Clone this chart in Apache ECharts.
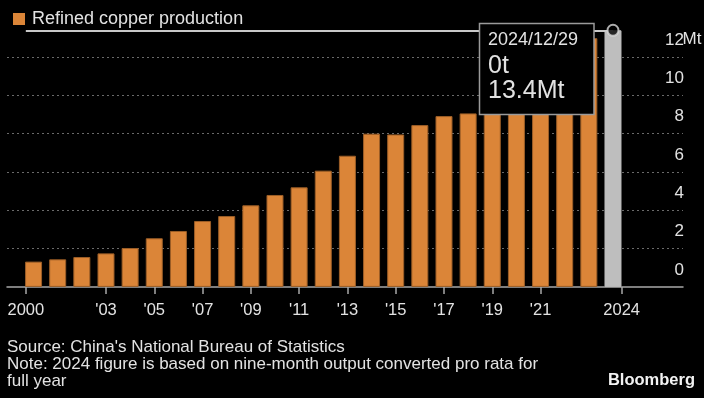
<!DOCTYPE html>
<html>
<head>
<meta charset="utf-8">
<script src="https://cdn.jsdelivr.net/npm/echarts@6/dist/echarts.min.js"></script>
<style>
  html, body { margin: 0; padding: 0; background: #000; }
  #chart { width: 704px; height: 398px; }
</style>
</head>
<body>
<div id="chart"></div>
<script>
  // refined copper output, million tonnes (2024 = pro rata from 9 months)
  const years = [2000, 2001, 2002, 2003, 2004, 2005, 2006, 2007, 2008, 2009, 2010, 2011,
    2012, 2013, 2014, 2015, 2016, 2017, 2018, 2019, 2020, 2021, 2022, 2023, 2024]
  const production = [1.32, 1.44, 1.56, 1.75, 2.03, 2.54, 2.92, 3.44, 3.70, 4.26, 4.80, 5.20,
    6.07, 6.85, 8.00, 7.96, 8.45, 8.92, 9.06, 9.78, 10.03, 10.49, 11.06, 12.99, 13.4]
  const tickYears = [2000, 2003, 2005, 2007, 2009, 2011, 2013, 2015, 2017, 2019, 2021, 2024]
  const tickLabels = ['2000', "'03", "'05", "'07", "'09", "'11", "'13", "'15", "'17", "'19", "'21", '2024']
  const yTicks = [0, 2, 4, 6, 8, 10, 12]

  const FONT = "'Liberation Sans', Arial, sans-serif"
  const ORANGE = '#DB8538'
  const GREY = '#BEBEBE'
  const TXT = '#E2E2E2'

  // first / last labels sit on the edges of the plotted span, like the original
  const tickPos = tickYears.map((y, i) => i === 0 ? y - 0.32 : (i === tickYears.length - 1 ? y + 0.36 : y))
  const lastYear = years[years.length - 1]
  const lastVal = production[production.length - 1]
  const topTick = yTicks[yTicks.length - 1]

  const barData = years.map((y, i) => {
    const d = { value: [y, production[i]] }
    if (y === lastYear) d.itemStyle = { color: GREY, borderColor: GREY }
    return d
  })

  const chart = echarts.init(document.getElementById('chart'), null, { renderer: 'canvas' })

  function textEl (x, y, text, font, extra) {
    return Object.assign({
      type: 'text', x: x, y: y,
      style: { text: text, fill: TXT, font: font, verticalAlign: 'middle' }
    }, extra || {})
  }

  const option = {
    backgroundColor: '#000',
    animation: false,
    textStyle: { fontFamily: FONT },
    legend: {
      left: 8,
      top: 5,
      icon: 'rect',
      itemWidth: 12,
      itemHeight: 12,
      data: ['Refined copper production'],
      itemStyle: { borderWidth: 0 },
      textStyle: { color: TXT, fontSize: 18, fontFamily: FONT, padding: [0, 0, 0, 2] }
    },
    grid: { left: 7, right: 21, top: 18.8, bottom: 111.1 },
    xAxis: {
      type: 'value',
      min: 1998.9,
      max: 2026.9,
      splitLine: { show: false },
      axisLine: { show: true, onZero: false, lineStyle: { color: '#A8A8A8', width: 1.5 } },
      axisTick: {
        show: true,
        length: 7,
        customValues: tickPos,
        lineStyle: { color: '#A8A8A8', width: 1.5 }
      },
      axisLabel: {
        customValues: tickPos,
        color: TXT,
        fontSize: 16.5,
        fontFamily: FONT,
        lineHeight: 16,
        margin: 16,
        formatter: (v) => {
          const i = tickPos.findIndex(p => Math.abs(p - v) < 1e-6)
          return i >= 0 ? tickLabels[i] : ''
        }
      }
    },
    yAxis: {
      type: 'value',
      position: 'right',
      min: 0,
      max: 14,
      interval: 2,
      axisLine: { show: false },
      axisTick: { show: false },
      splitLine: {
        show: true,
        showMinLine: false,
        showMaxLine: false,
        lineStyle: { color: '#6A6A6A', type: [2, 3], width: 1 }
      },
      axisLabel: {
        inside: true,
        margin: -1,
        showMaxLabel: false,
        color: TXT,
        fontSize: 17,
        fontFamily: FONT,
        verticalAlign: 'bottom',
        lineHeight: 18,
        padding: [0, 0, 8, 0],
        formatter: (v) => yTicks.indexOf(v) < 0 ? '' : String(v)
      }
    },
    series: [
      {
        name: 'Refined copper production',
        type: 'bar',
        barWidth: 17,
        data: barData,
        itemStyle: { color: ORANGE, borderColor: '#9C5E27', borderWidth: 1 },
        markLine: {
          silent: true,
          symbol: 'none',
          label: { show: false },
          lineStyle: { color: '#C8C8C8', width: 2, type: 'solid' },
          data: [[{ coord: [tickPos[0], lastVal] }, { coord: [lastYear, lastVal] }]]
        }
      },
      {
        name: 'pointer',
        type: 'scatter',
        data: [[lastYear, lastVal]],
        symbol: 'circle',
        symbolSize: 11,
        z: 5,
        itemStyle: { color: '#000', borderColor: '#D8D8D8', borderWidth: 2 }
      }
    ]
  }
  chart.setOption(option)

  // unit hangs to the right of the top tick label
  const gridRight = 704 - option.grid.right
  const unitY = chart.convertToPixel({ yAxisIndex: 0 }, topTick) - 17.5
  chart.setOption({
    graphic: [
      {
        type: 'rect',
        z: 100,
        shape: { x: 479.5, y: 23.5, width: 114.5, height: 91 },
        style: { fill: '#000', stroke: '#9A9A9A', lineWidth: 1.5 }
      },
      textEl(488, 40.5, '2024/12/29', '18px ' + FONT, { z: 101 }),
      textEl(488, 65.8, '0t', '25px ' + FONT, { z: 101 }),
      textEl(488, 90.8, '13.4Mt', '25px ' + FONT, { z: 101 }),
      textEl(gridRight - 0.5, unitY, 'Mt', '17px ' + FONT),
      textEl(7, 347.2, "Source: China's National Bureau of Statistics", '17px ' + FONT),
      textEl(7, 364.5, 'Note: 2024 figure is based on nine-month output converted pro rata for', '17px ' + FONT),
      textEl(7, 381.8, 'full year', '17px ' + FONT),
      {
        type: 'text', x: 695, y: 380,
        style: { text: 'Bloomberg', fill: '#F2F2F2', font: 'bold 16.5px ' + FONT, align: 'right', verticalAlign: 'middle' }
      }
    ]
  })
</script>
</body>
</html>
